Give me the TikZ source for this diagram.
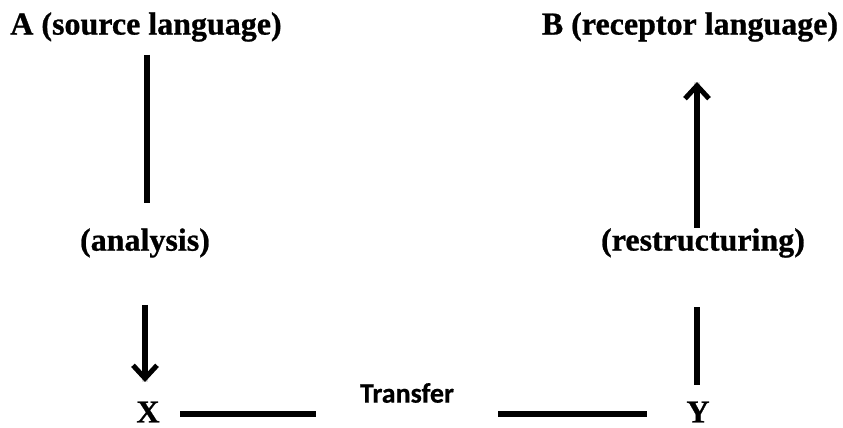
\documentclass[tikz,border=0pt]{standalone}
\usepackage{fontspec}
\setmainfont{Liberation Serif}[BoldFeatures={FakeBold=0.8}]
\newfontfamily\calfont{Carlito}[BoldFeatures={FakeBold=0.6}]
\usetikzlibrary{arrows.meta}
\begin{document}
\begin{tikzpicture}[x=1pt,y=1pt,
  lbl/.style={font=\bfseries\fontsize{32}{36}\selectfont, inner sep=0pt},
  tlbl/.style={font=\calfont\bfseries\fontsize{28}{32}\selectfont, inner sep=0pt},
  conn/.style={line width=5.5pt},
  shad/.style={line width=6pt, gray, opacity=0.25},
  tip/.style={-{Straight Barb[length=13pt,width=24pt,line width=5pt]}}
]
\useasboundingbox (0,0) rectangle (843,428);
% labels
\node[lbl] (A) at (146,401) {A (source language)};
\node[lbl] (B) at (690,401) {B (receptor language)};
\node[lbl] (an) at (145,185) {(analysis)};
\node[lbl] (re) at (703,185) {(restructuring)};
\node[lbl] (X) at (148,16) {X};
\node[lbl] (Y) at (698,16) {Y};
\node[tlbl] (T) at (407,35) {Transfer};
% connector end points
\coordinate (a1) at (147,373);
\coordinate (a2) at (147,225);
\coordinate (b1) at (145,123);
\coordinate (b2) at (145,46);
\coordinate (c1) at (180,14);
\coordinate (c2) at (316,14);
\coordinate (d1) at (498,14);
\coordinate (d2) at (647,14);
\coordinate (e1) at (697,43);
\coordinate (e2) at (697,121);
\coordinate (f1) at (697,200);
\coordinate (f2) at (697,346);
% shadows
\begin{scope}[shift={(1.5,-2)}]
\draw[shad] (a1) -- (a2);
\draw[shad] (b1) -- (b2);
\draw[shad] (c1) -- (c2);
\draw[shad] (d1) -- (d2);
\draw[shad] (e1) -- (e2);
\draw[shad] (f1) -- (f2);
\end{scope}
% connectors
\draw[conn] (a1) -- (a2);
\draw[conn,tip] (b1) -- (b2);
\draw[conn] (c1) -- (c2);
\draw[conn] (d1) -- (d2);
\draw[conn] (e1) -- (e2);
\draw[conn,tip] (f1) -- (f2);
\end{tikzpicture}
\end{document}
